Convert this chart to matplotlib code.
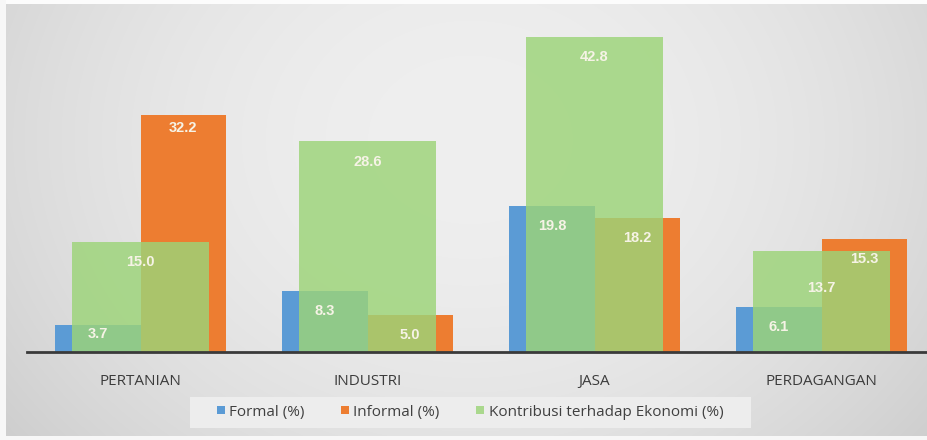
import matplotlib.pyplot as plt
from matplotlib.patches import Rectangle
import numpy as np

# Sector shares of formal / informal workers and contribution to the economy
sectors = ['PERTANIAN', 'INDUSTRI', 'JASA', 'PERDAGANGAN']
formal = [3.7, 8.3, 19.8, 6.1]
informal = [32.2, 5.0, 18.2, 15.3]
kontribusi = [15.0, 28.6, 42.8, 13.7]

c_formal = '#5b9bd5'
c_informal = '#ed7d31'
c_kontrib = '#9cd478'

W, H = 927, 440
fig = plt.figure(figsize=(W / 100, H / 100), dpi=100)

# soft grey radial backdrop with a thin white frame
bg = fig.add_axes([0, 0, 1, 1], zorder=0)
yy, xx = np.mgrid[0:H, 0:W]
d2 = ((xx - 470) / 560.0) ** 2 + ((yy - 140) / 460.0) ** 2
shade = np.clip(239 - 30 * d2, 200, 242) / 255.0
shade[:5, :] = 0.99
shade[:, :6] = 0.97
shade[436:, :] = 0.97
bg.imshow(np.dstack([shade] * 3), aspect='auto', extent=[0, 1, 0, 1])
bg.axis('off')

# lighter strip behind the legend
fig.patches.append(Rectangle((190 / W, 1 - 428 / H), 561 / W, 31 / H,
                             transform=fig.transFigure, facecolor='#ededed',
                             edgecolor='none', zorder=1))

ax = fig.add_axes([27 / W, 0.2, 908 / W, 0.753], zorder=2)
ax.set_facecolor('none')

x = np.arange(len(sectors))
bw = 0.375
b1 = ax.bar(x - bw / 2, formal, bw, color=c_formal, zorder=2)
b2 = ax.bar(x + bw / 2, informal, bw, color=c_informal, zorder=2)
b3 = ax.bar(x, kontribusi, 0.605, color=c_kontrib, alpha=0.82, zorder=3)

ax.set_xlim(-0.5, 3.5)
ax.set_ylim(0, 45)
ax.set_yticks([])
for s in ['top', 'left', 'right']:
    ax.spines[s].set_visible(False)
ax.spines['bottom'].set_color('#3a3a3a')
ax.spines['bottom'].set_linewidth(2)
ax.spines['bottom'].set_zorder(5)
ax.set_xticks(x)
ax.set_xticklabels(sectors, fontsize=11, color='#3c3c3c', family=['Open Sans', 'DejaVu Sans'])
ax.tick_params(axis='x', length=0, pad=16)

# value labels sit inside the top of each bar
nudge = {(0, 0): 8, (1, 0): 5, (2, 3): -12}
for k, bars in enumerate([b1, b2, b3]):
    for i, bar in enumerate(bars):
        h = bar.get_height()
        ax.annotate(f'{h:.1f}', (bar.get_x() + bar.get_width() / 2, h),
                    xytext=(0, -14.5 + nudge.get((k, i), 0)), textcoords='offset points',
                    ha='center', va='center', fontsize=10.5, fontweight='bold',
                    color='#f6f3e6', zorder=6,
                    family=['Liberation Sans', 'DejaVu Sans'])

leg = fig.legend([b1, b2, b3], ['Formal (%)', 'Informal (%)', 'Kontribusi terhadap Ekonomi (%)'],
                 loc='center', bbox_to_anchor=(470 / W, 1 - 412 / H), ncol=3,
                 frameon=False, handlelength=0.5, handleheight=0.5,
                 handletextpad=0.3, columnspacing=2.4,
                 prop={'family': ['Open Sans', 'DejaVu Sans'], 'size': 11})
for t in leg.get_texts():
    t.set_color('#404040')

fig.savefig('out.png', dpi=100)
